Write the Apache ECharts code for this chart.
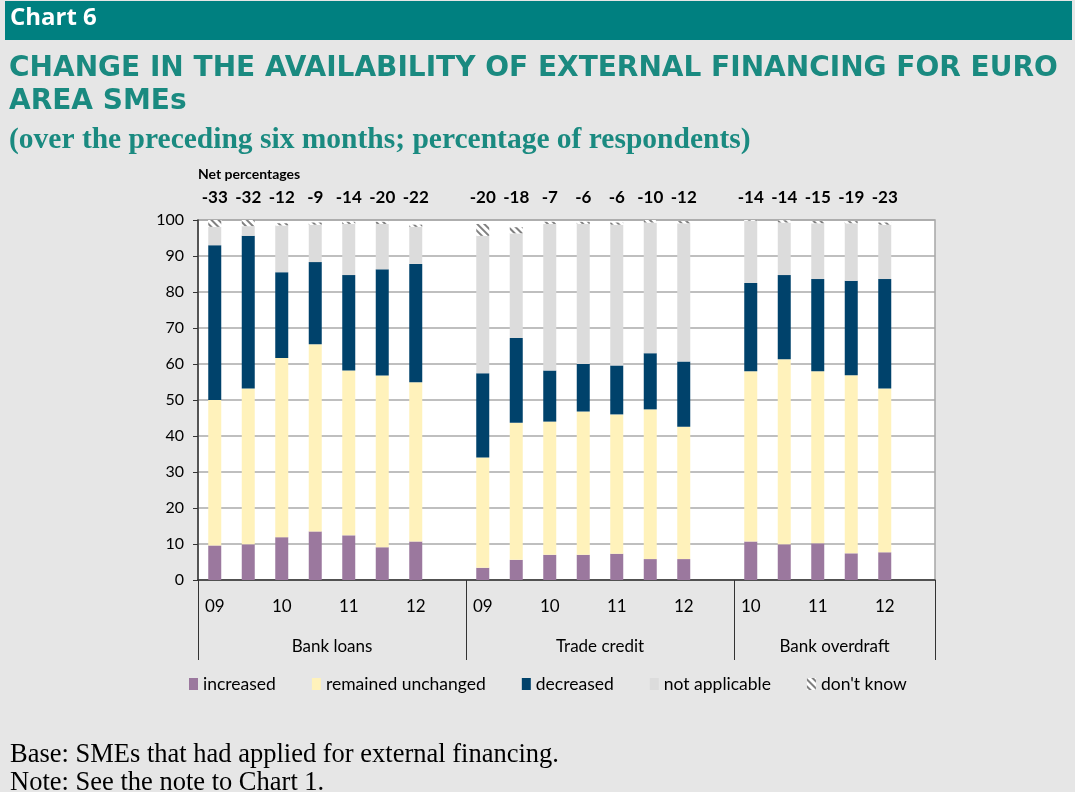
<!DOCTYPE html>
<html>
<head>
<meta charset="utf-8">
<script src="https://cdn.jsdelivr.net/npm/echarts@6/dist/echarts.min.js"></script>
<style>
  html, body { margin: 0; padding: 0; background: #ffffff; }
  #chart { width: 1075px; height: 792px; }
</style>
</head>
<body>
<div id="chart"></div>
<script>
// one slot per bar, plus an empty slot closing each group
const slotIds = [
  "bl1", "bl2", "bl3", "bl4", "bl5", "bl6", "bl7", "bl-gap",
  "tc1", "tc2", "tc3", "tc4", "tc5", "tc6", "tc7", "tc-gap",
  "bo1", "bo2", "bo3", "bo4", "bo5", "bo-gap"
];
const periodLabels = [
  "09", "", "10", "", "11", "", "12", "",
  "09", "", "10", "", "11", "", "12", "",
  "10", "", "11", "", "12", ""
];
const groupNames = ["Bank loans", "Trade credit", "Bank overdraft"];
const groupSizes = [8, 8, 6];
const netPercentages = [
  -33, -32, -12, -9, -14, -20, -22, null,
  -20, -18, -7, -6, -6, -10, -12, null,
  -14, -14, -15, -19, -23, null
];

const increased = [
  9.6, 9.9, 11.9, 13.5, 12.4, 9.1, 10.7, null,
  3.4, 5.6, 7.0, 7.0, 7.3, 5.8, 5.8, null,
  10.7, 9.9, 10.2, 7.4, 7.7, null
];
const unchanged = [
  40.4, 43.3, 49.8, 52.0, 45.8, 47.7, 44.2, null,
  30.6, 38.1, 37.0, 39.8, 38.7, 41.6, 36.8, null,
  47.3, 51.4, 47.8, 49.5, 45.5, null
];
const decreased = [
  43.0, 42.4, 23.8, 22.8, 26.5, 29.5, 32.9, null,
  23.4, 23.5, 14.2, 13.2, 13.6, 15.6, 18.1, null,
  24.5, 23.4, 25.6, 26.2, 30.4, null
];
const notApplicable = [
  5.1, 2.7, 13.0, 10.4, 14.2, 12.6, 10.3, null,
  38.2, 29.1, 40.7, 38.9, 39.1, 36.3, 38.4, null,
  17.3, 14.6, 15.5, 16.0, 15.1, null
];
const dontKnow = [
  1.9, 1.7, 0.6, 0.6, 0.6, 0.6, 0.6, null,
  3.3, 1.7, 0.6, 0.6, 0.6, 0.7, 0.6, null,
  0.3, 0.6, 0.6, 0.6, 0.6, null
];

const yTicks = { min: 0, max: 100, interval: 10 };

// group boundaries and label positions on the slot scale
const groupStarts = [];
const groupMids = {};
let acc = 0;
groupSizes.forEach((size, i) => {
  groupStarts.push(acc);
  groupMids[acc + size / 2] = groupNames[i];
  acc += size;
});

const FONT = "Lato";
const HEAD_FONT = "'Open Sans'";
const TEAL = "#008080";

const chart = echarts.init(document.getElementById("chart"));

function stackBar(name, data, color, extra) {
  return Object.assign({
    name,
    type: "bar",
    stack: "all",
    barWidth: 13,
    data,
    itemStyle: { color },
    emphasis: { disabled: true }
  }, extra || {});
}

chart.setOption({
  backgroundColor: "#e6e6e6",
  animation: false,
  textStyle: { fontFamily: FONT },
  grid: {
    left: 198,
    right: 140,
    top: 220,
    bottom: 212,
    show: true,
    backgroundColor: "#ffffff",
    borderColor: "#a6a6a6",
    borderWidth: 1.5
  },
  graphic: [
    {
      type: "rect",
      shape: { x: 5, y: 1, width: 1067, height: 39 },
      style: { fill: TEAL }
    },
    {
      type: "text",
      left: 10, top: 6,
      style: { text: "Chart 6", fill: "#ffffff", font: "bold 24px " + HEAD_FONT }
    },
    {
      type: "text",
      left: 9, top: 52,
      style: {
        text: "CHANGE IN THE AVAILABILITY OF EXTERNAL FINANCING FOR EURO\nAREA SMEs",
        fill: "#1a8a80",
        font: "bold 28px 'DejaVu Sans'",
        lineHeight: 33
      }
    },
    {
      type: "text",
      left: 9, top: 125,
      style: {
        text: "(over the preceding six months; percentage of respondents)",
        fill: "#1a8a80",
        font: "bold 29.5px 'Liberation Serif'"
      }
    },
    {
      type: "text",
      left: 198, top: 167,
      style: { text: "Net percentages", fill: "#000", font: "bold 14px " + FONT }
    },
    {
      type: "text",
      left: 10, top: 741,
      style: {
        text: "Base: SMEs that had applied for external financing.\nNote: See the note to Chart 1.",
        fill: "#000",
        font: "26.5px 'Liberation Serif'",
        lineHeight: 28
      }
    }
  ],
  legend: {
    left: 184,
    top: 670,
    itemWidth: 9,
    itemHeight: 12,
    itemGap: 36,
    icon: "rect",
    textStyle: { fontFamily: FONT, fontSize: 17.5, color: "#000" },
    data: ["increased", "remained unchanged", "decreased", "not applicable", "don't know"]
  },
  xAxis: [
    {
      type: "category",
      data: slotIds,
      position: "bottom",
      axisLine: { lineStyle: { color: "#333", width: 1.5 } },
      axisTick: { show: false },
      axisLabel: {
        interval: 0,
        margin: 18,
        fontSize: 17,
        color: "#000",
        formatter: (v, i) => periodLabels[i]
      }
    },
    {
      // group separators hanging below the axis
      type: "category",
      data: slotIds,
      position: "bottom",
      axisLine: { show: false },
      axisTick: {
        show: true,
        length: 80,
        interval: (i) => groupStarts.includes(i),
        lineStyle: { color: "#333", width: 1 }
      },
      axisLabel: { show: false }
    },
    {
      // group names centred over each group
      type: "value",
      min: 0,
      max: slotIds.length,
      interval: 0.5,
      position: "bottom",
      axisLine: { show: false },
      axisTick: { show: false },
      splitLine: { show: false },
      axisLabel: {
        margin: 58,
        fontSize: 17,
        color: "#000",
        showMinLabel: true,
        showMaxLabel: true,
        formatter: (v) => groupMids[v] || ""
      }
    },
    {
      // net percentages above the bars
      type: "category",
      data: slotIds,
      position: "top",
      axisLine: { show: false },
      axisTick: { show: false },
      axisLabel: {
        interval: 0,
        margin: 14,
        fontSize: 17,
        fontWeight: "bold",
        color: "#000",
        formatter: (v, i) => (netPercentages[i] === null ? "" : String(netPercentages[i]))
      }
    }
  ],
  yAxis: {
    type: "value",
    min: yTicks.min,
    max: yTicks.max,
    interval: yTicks.interval,
    axisLine: { show: true, lineStyle: { color: "#333", width: 1.5 } },
    axisTick: { show: true, length: 5, lineStyle: { color: "#333" } },
    axisLabel: { fontSize: 16, color: "#000", margin: 14 },
    splitLine: { lineStyle: { color: "#aaaaaa", width: 1.5 } }
  },
  series: [
    stackBar("increased", increased, "#9b789e"),
    stackBar("remained unchanged", unchanged, "#fff2bb"),
    stackBar("decreased", decreased, "#00426b"),
    stackBar("not applicable", notApplicable, "#dcdcdc"),
    stackBar("don't know", dontKnow, "#ffffff", {
      itemStyle: {
        color: "#ffffff",
        decal: {
          symbol: "rect",
          symbolSize: 1,
          color: "#808080",
          backgroundColor: "#ffffff",
          dashArrayX: [1, 0],
          dashArrayY: [2, 3],
          rotation: Math.PI / 4
        }
      }
    })
  ]
});
</script>
</body>
</html>
